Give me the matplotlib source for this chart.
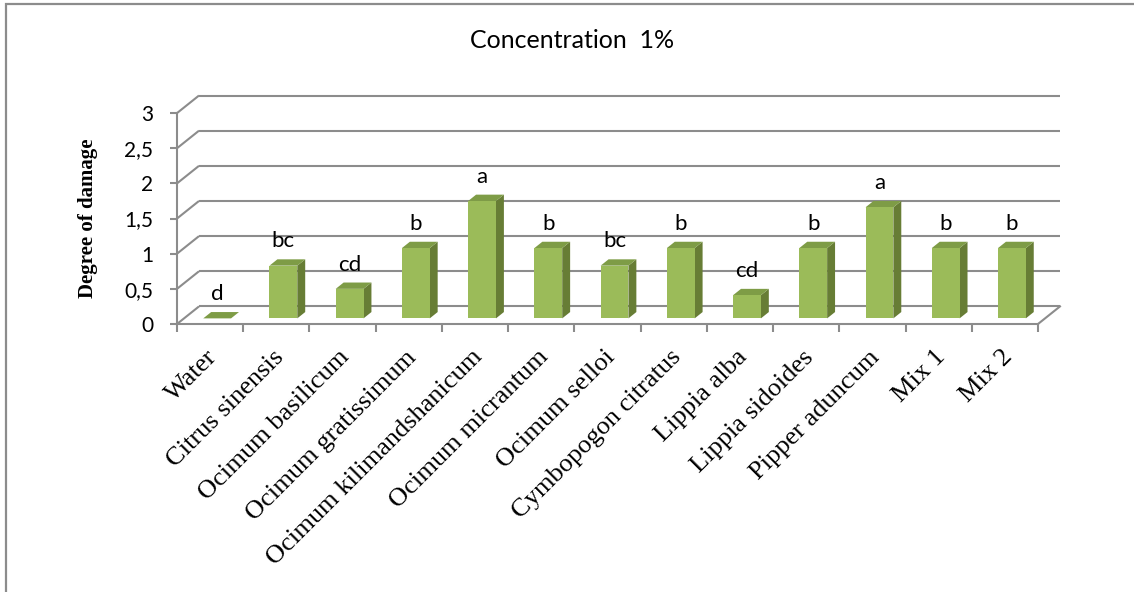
import matplotlib
matplotlib.use("Agg")
import matplotlib.pyplot as plt
import matplotlib.patches as patches
import matplotlib.transforms as mtransforms

# Mean degree of damage per treatment, with the significance letters
categories = ["Water", "Citrus sinensis", "Ocimum basilicum", "Ocimum gratissimum",
              "Ocimum kilimandshanicum", "Ocimum micrantum", "Ocimum selloi",
              "Cymbopogon citratus", "Lippia alba", "Lippia sidoides",
              "Pipper aduncum", "Mix 1", "Mix 2"]
damage = [0, 0.75, 0.42, 1.0, 1.67, 1.0, 0.75, 1.0, 0.33, 1.0, 1.58, 1.0, 1.0]
letters = ["d", "bc", "cd", "b", "a", "b", "bc", "b", "cd", "b", "a", "b", "b"]
yticks = [0, 0.5, 1, 1.5, 2, 2.5, 3]
ytick_labels = ["0", "0,5", "1", "1,5", "2", "2,5", "3"]

W, H = 1134, 592
DPI = 100
# pseudo-3D geometry: depth of the floor in data units, bar depth span
DX, DY = 0.332, 0.25
D0, D1 = 0.32, 0.68
BAR_W = 0.42

FRONT = "#9bbb59"
TOP = "#7e9c46"
SIDE = "#677d35"
GRID = "#8c8c8c"

n = len(categories)
fig = plt.figure(figsize=(W / DPI, H / DPI), dpi=DPI)

# outer chart frame
fig.add_artist(patches.Rectangle((6 / W, -0.01), 1.2, (H - 4) / H + 0.01,
                                 transform=fig.transFigure, fill=False,
                                 edgecolor=GRID, lw=1.6))

# axes placed so one category is ~66 px and one unit ~70 px
x_left, x_front_right, y_zero, ppu = 177, 1038, 324, 70.3
ppc = (x_front_right - x_left) / n
xmax = n - 0.5 + DX
ymax = 3 + DY
ax_w = (xmax + 0.5) * ppc
ax_h = ymax * ppu
ax = fig.add_axes([x_left / W, (H - y_zero) / H, ax_w / W, ax_h / H])
ax.set_xlim(-0.5, xmax)
ax.set_ylim(0, ymax)
ax.patch.set_alpha(0)
for s in ["top", "right"]:
    ax.spines[s].set_visible(False)
for s in ["left", "bottom"]:
    ax.spines[s].set_color(GRID)
    ax.spines[s].set_linewidth(1.5)
ax.spines["left"].set_bounds(0, 3)
ax.spines["bottom"].set_bounds(-0.5, n - 0.5)

# side wall and back wall gridlines
for v in yticks:
    ax.plot([-0.5, -0.5 + DX], [v, v + DY], color=GRID, lw=1.5, zorder=1,
            clip_on=False, solid_capstyle="butt")
    ax.plot([-0.5 + DX, n - 0.5 + DX], [v + DY, v + DY], color=GRID, lw=1.5,
            zorder=1, clip_on=False, solid_capstyle="butt")
# right edge of the floor
ax.plot([n - 0.5, n - 0.5 + DX], [0, DY], color=GRID, lw=1.5, zorder=1,
        clip_on=False)

# bars: side, top, front faces
for i, v in enumerate(damage):
    x0 = i - BAR_W / 2 + D0 * DX
    x1 = x0 + BAR_W
    y0 = D0 * DY
    y1 = v + y0
    ddx = (D1 - D0) * DX
    ddy = (D1 - D0) * DY
    side = patches.Polygon([(x1, y0), (x1 + ddx, y0 + ddy), (x1 + ddx, y1 + ddy), (x1, y1)],
                           closed=True, facecolor=SIDE, edgecolor="none", zorder=3)
    top = patches.Polygon([(x0, y1), (x1, y1), (x1 + ddx, y1 + ddy), (x0 + ddx, y1 + ddy)],
                          closed=True, facecolor=TOP, edgecolor="none", zorder=3)
    front = patches.Rectangle((x0, y0), BAR_W, v, facecolor=FRONT,
                              edgecolor="none", zorder=4)
    ax.add_patch(side)
    ax.add_patch(top)
    ax.add_patch(front)
    ax.text((x0 + x1) / 2, y1 + 0.345, letters[i], ha="center", va="center",
            fontsize=16, family="Lato", zorder=5)

# y axis
ax.set_yticks(yticks)
ax.set_yticklabels(ytick_labels, fontsize=15, family="Lato")
ax.tick_params(axis="y", direction="out", length=5, width=1.5, color=GRID, pad=12)

# x axis: ticks on category boundaries, labels on centres
ax.set_xticks([i - 0.5 for i in range(n + 1)])
ax.set_xticklabels([])
ax.tick_params(axis="x", which="major", direction="out", length=6, width=1.5, color=GRID)
ax.set_xticks(range(n), minor=True)
ax.set_xticklabels(categories, minor=True, rotation=45, ha="right",
                   rotation_mode="anchor", fontsize=19, family="Liberation Serif")
ax.tick_params(axis="x", which="minor", length=0, pad=16)
shift = mtransforms.ScaledTranslation(-4 / DPI, 0, fig.dpi_scale_trans)
for lab in ax.get_xticklabels(minor=True):
    lab.set_transform(lab.get_transform() + shift)

ax.set_ylabel("Degree of damage", fontsize=15, family="Liberation Serif",
              fontweight="bold")
ax.yaxis.set_label_coords((98 - x_left) / ax_w, (y_zero - 218) / ax_h)

fig.text(572 / W, 1 - 40 / H, "Concentration  1%", ha="center", va="center",
         fontsize=18, family="Lato")

fig.savefig("out.png", dpi=DPI)
